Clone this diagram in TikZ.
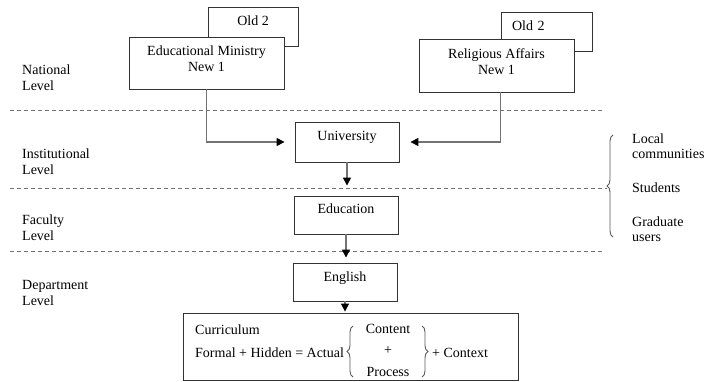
\documentclass[tikz,border=0pt]{standalone}
\usepackage{fontspec}
\setmainfont{Liberation Serif}
\usetikzlibrary{arrows.meta,decorations.pathreplacing}
\begin{document}
\begin{tikzpicture}[x=1pt,y=-1pt,
  font=\fontsize{14}{16}\selectfont,
  box/.style={draw=black!80, line width=0.9pt, fill=white, inner sep=0pt, align=center},
  one/.style={text height=10pt, text depth=12pt},
  two/.style={text height=26pt, text depth=8pt},
  lvl/.style={anchor=west, align=left, inner sep=2pt},
  sep/.style={draw=black!55, line width=0.9pt, dash pattern=on 4pt off 3pt},
  arr/.style={draw=black!55, line width=1.4pt, -{Triangle[length=8pt,width=8pt,color=black]}},
  brc/.style={decorate, decoration={brace, amplitude=6pt}, draw=black!65, line width=0.9pt},
  inner/.style={inner sep=0pt}
]
\useasboundingbox (0,0) rectangle (709,382);

% old boxes (behind)
\node[box, one, minimum width=90pt, minimum height=39pt] (oldL) at (253,26.5) {Old 2};
\node[box, one, minimum width=91pt, minimum height=39pt, inner xsep=11pt, text width=69pt, align=left] (oldR) at (546.5,31.5) {Old 2};

% new boxes
\node[box, two, minimum width=155pt, minimum height=52pt] (edu) at (206.5,63) {Educational Ministry\\New 1};
\node[box, two, minimum width=155pt, minimum height=53pt] (rel) at (496.5,65.5) {Religious Affairs\\New 1};

\node[box, one, minimum width=104pt, minimum height=40pt] (univ) at (347,142) {University};
\node[box, one, minimum width=104pt, minimum height=38pt] (educ) at (346,215) {Education};
\node[box, one, minimum width=104pt, minimum height=38pt] (eng) at (345,282) {English};
\node[box, minimum width=335pt, minimum height=67pt] (curr) at (350.5,346.5) {};

% curriculum contents
\node[inner, anchor=west] (cur) at (195,330) {Curriculum};
\node[inner, anchor=west] (form) at (195,353) {Formal + Hidden = Actual};
\node (cont) at (388,329) {Content};
\node (plus) at (388,351) {+};
\node (proc) at (388,372) {Process};
\node[inner, anchor=west] (ctx) at (432,353) {+ Context};
\draw[brc] (353,377) -- (353,326);
\draw[brc] (422,326) -- (422,377);

% level separators
\coordinate (s1a) at (10,110); \coordinate (s1b) at (603,110);
\coordinate (s2a) at (10,188); \coordinate (tip) at (607,188);
\coordinate (s3a) at (10,251); \coordinate (s3b) at (603,251);
\draw[sep] (s1a) -- (s1b);
\draw[sep] (s2a) -- (tip);
\draw[sep] (s3a) -- (s3b);

% level labels
\node[lvl] (nat) at (20,78) {National\\Level};
\node[lvl] (ins) at (20,161.5) {Institutional\\Level};
\node[lvl] (fac) at (20,227.5) {Faculty\\Level};
\node[lvl] (dep) at (20,293) {Department\\Level};

% right brace and stakeholders
\draw[brc] (613,237) -- (613,135);
\node[lvl] (loc) at (630,146.5) {Local\\[-1pt]communities};
\node[lvl] (stu) at (630,188) {Students};
\node[lvl] (grad) at (630,229) {Graduate\\[-1pt]users};

% arrows
\draw[arr, shorten >=10pt] (edu.south) |- (univ.west);
\draw[arr, shorten >=11pt] ([xshift=4pt]rel.south) |- (univ.east);
\draw[arr, shorten >=10pt] (univ.south) -- (univ.south |- educ.north);
\draw[arr, shorten >=5pt] (educ.south) -- (educ.south |- eng.north);
\draw[arr, shorten >=1pt] (eng.south) -- (eng.south |- curr.north);
\end{tikzpicture}
\end{document}
